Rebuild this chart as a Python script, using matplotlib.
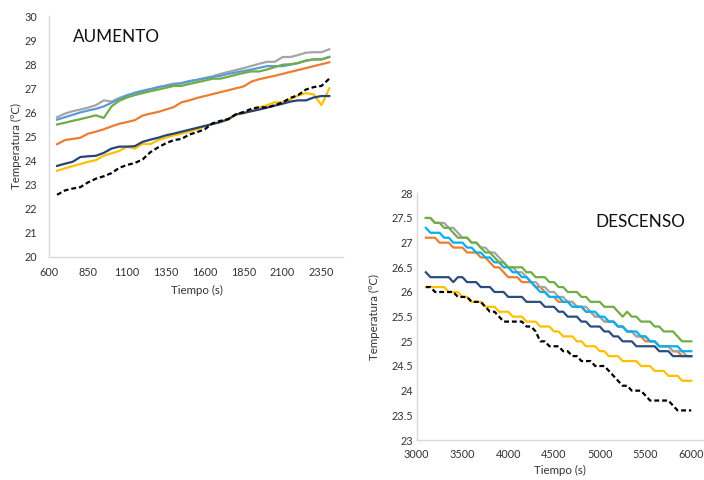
import matplotlib
matplotlib.use("Agg")
import matplotlib.pyplot as plt
from matplotlib.ticker import FormatStrFormatter

plt.rcParams['font.family'] = ['Lato', 'DejaVu Sans']

# ---- AUMENTO (heating) ----
t_up = list(range(650, 2401, 50))

up_gray = [25.8, 25.95, 26.05, 26.12, 26.2, 26.3, 26.5, 26.45, 26.6, 26.72, 26.8, 26.87,
           26.95, 27.05, 27.12, 27.2, 27.2, 27.28, 27.35, 27.42, 27.5, 27.6, 27.68, 27.76,
           27.84, 27.93, 28.02, 28.1, 28.1, 28.3, 28.3, 28.38, 28.48, 28.5, 28.5, 28.62]
up_blue = [25.7, 25.8, 25.9, 26.0, 26.08, 26.15, 26.25, 26.4, 26.55, 26.7, 26.82, 26.9,
           26.97, 27.05, 27.1, 27.15, 27.22, 27.3, 27.35, 27.42, 27.47, 27.52, 27.6, 27.66,
           27.72, 27.78, 27.85, 27.92, 27.92, 27.92, 27.98, 28.05, 28.15, 28.2, 28.2, 28.3]
up_green = [25.5, 25.57, 25.65, 25.72, 25.8, 25.88, 25.77, 26.25, 26.48, 26.62, 26.72, 26.8,
            26.88, 26.95, 27.02, 27.1, 27.1, 27.18, 27.25, 27.32, 27.4, 27.4, 27.48, 27.56,
            27.64, 27.7, 27.7, 27.78, 27.88, 27.98, 28.0, 28.05, 28.15, 28.2, 28.2, 28.3]
up_orange = [24.68, 24.85, 24.9, 24.95, 25.12, 25.2, 25.3, 25.42, 25.53, 25.6, 25.68, 25.87,
             25.95, 26.02, 26.12, 26.22, 26.42, 26.5, 26.6, 26.68, 26.76, 26.84, 26.92, 27.0,
             27.08, 27.28, 27.38, 27.45, 27.52, 27.6, 27.68, 27.76, 27.84, 27.92, 28.0, 28.08]
up_navy = [23.78, 23.87, 23.95, 24.15, 24.18, 24.2, 24.32, 24.5, 24.58, 24.58, 24.6, 24.78,
           24.87, 24.95, 25.05, 25.12, 25.2, 25.28, 25.36, 25.44, 25.52, 25.6, 25.72, 25.92,
           25.98, 26.05, 26.12, 26.2, 26.28, 26.36, 26.45, 26.5, 26.5, 26.62, 26.68, 26.68]
up_yellow = [23.58, 23.68, 23.77, 23.86, 23.95, 24.02, 24.2, 24.3, 24.4, 24.58, 24.5, 24.7,
             24.68, 24.85, 24.95, 25.05, 25.12, 25.2, 25.3, 25.42, 25.52, 25.6, 25.7, 25.9,
             25.96, 26.08, 26.2, 26.3, 26.42, 26.42, 26.55, 26.7, 26.8, 26.75, 26.3, 27.0]
up_ambient = [22.58, 22.76, 22.84, 22.9, 23.1, 23.25, 23.35, 23.48, 23.7, 23.82, 23.9, 24.05,
              24.35, 24.55, 24.72, 24.85, 24.9, 25.08, 25.18, 25.3, 25.55, 25.65, 25.72, 25.92,
              26.02, 26.15, 26.22, 26.2, 26.3, 26.42, 26.6, 26.72, 26.95, 27.05, 27.1, 27.4]

up_ticks = [600, 850, 1100, 1350, 1600, 1850, 2100, 2350]

# ---- DESCENSO (cooling) ----
t_down = list(range(3100, 6001, 50))

dn_green = [27.5, 27.5, 27.4, 27.4, 27.3, 27.3, 27.2, 27.1, 27.1, 27.1, 27.0, 27.0, 26.9, 26.8,
            26.8, 26.7, 26.6, 26.6, 26.5, 26.5, 26.5, 26.5, 26.4, 26.4, 26.3, 26.3, 26.3, 26.2,
            26.2, 26.1, 26.1, 26.0, 26.0, 26.0, 25.9, 25.9, 25.8, 25.8, 25.8, 25.7, 25.7, 25.7,
            25.6, 25.5, 25.6, 25.5, 25.5, 25.4, 25.4, 25.4, 25.3, 25.3, 25.2, 25.2, 25.2, 25.1,
            25.0, 25.0, 25.0]
dn_gray = [27.5, 27.5, 27.4, 27.4, 27.4, 27.3, 27.3, 27.2, 27.1, 27.1, 27.0, 27.0, 26.9, 26.9,
           26.8, 26.8, 26.7, 26.6, 26.5, 26.5, 26.4, 26.4, 26.3, 26.2, 26.2, 26.1, 26.1, 26.0,
           26.0, 25.9, 25.9, 25.8, 25.8, 25.7, 25.7, 25.7, 25.6, 25.5, 25.5, 25.4, 25.4, 25.4,
           25.3, 25.3, 25.2, 25.2, 25.1, 25.1, 25.1, 25.0, 25.0, 24.9, 24.9, 24.9, 24.8, 24.8,
           24.8, 24.7, 24.7]
dn_cyan = [27.3, 27.2, 27.2, 27.2, 27.1, 27.1, 27.0, 27.0, 27.0, 26.9, 26.9, 26.8, 26.8, 26.7,
           26.7, 26.6, 26.6, 26.5, 26.5, 26.4, 26.4, 26.3, 26.3, 26.2, 26.1, 26.0, 26.0, 25.9,
           25.9, 25.9, 25.8, 25.8, 25.7, 25.7, 25.7, 25.6, 25.6, 25.6, 25.5, 25.5, 25.4, 25.4,
           25.3, 25.3, 25.2, 25.2, 25.2, 25.1, 25.1, 25.0, 25.0, 24.9, 24.9, 24.9, 24.9, 24.9,
           24.8, 24.8, 24.8]
dn_orange = [27.1, 27.1, 27.1, 27.0, 27.0, 27.0, 26.9, 26.9, 26.9, 26.8, 26.8, 26.8, 26.7, 26.7,
             26.6, 26.5, 26.5, 26.4, 26.3, 26.3, 26.3, 26.2, 26.2, 26.2, 26.1, 26.1, 26.0, 25.9,
             25.9, 25.8, 25.8, 25.8, 25.8, 25.7, 25.7, 25.6, 25.6, 25.5, 25.5, 25.4, 25.4, 25.4,
             25.3, 25.3, 25.2, 25.2, 25.1, 25.1, 25.0, 25.0, 25.0, 24.9, 24.9, 24.9, 24.8, 24.8,
             24.7, 24.7, 24.7]
dn_navy = [26.4, 26.3, 26.3, 26.3, 26.3, 26.3, 26.2, 26.3, 26.3, 26.2, 26.2, 26.2, 26.1, 26.1,
           26.1, 26.0, 26.0, 26.0, 25.9, 25.9, 25.9, 25.9, 25.8, 25.8, 25.8, 25.8, 25.7, 25.7,
           25.7, 25.6, 25.6, 25.5, 25.5, 25.5, 25.4, 25.4, 25.3, 25.3, 25.3, 25.2, 25.2, 25.1,
           25.1, 25.0, 25.0, 25.0, 24.9, 24.9, 24.9, 24.9, 24.9, 24.8, 24.8, 24.8, 24.7, 24.7,
           24.7, 24.7, 24.7]
dn_yellow = [26.1, 26.1, 26.1, 26.1, 26.1, 26.0, 26.0, 26.0, 25.9, 25.9, 25.8, 25.8, 25.8, 25.7,
             25.7, 25.7, 25.6, 25.6, 25.6, 25.5, 25.5, 25.5, 25.4, 25.4, 25.4, 25.3, 25.3, 25.3,
             25.2, 25.2, 25.1, 25.1, 25.1, 25.0, 25.0, 24.9, 24.9, 24.9, 24.8, 24.8, 24.7, 24.7,
             24.7, 24.6, 24.6, 24.6, 24.6, 24.5, 24.5, 24.5, 24.4, 24.4, 24.4, 24.3, 24.3, 24.3,
             24.2, 24.2, 24.2]
dn_ambient = [26.1, 26.1, 26.0, 26.0, 26.0, 26.0, 26.0, 25.9, 25.9, 25.9, 25.8, 25.8, 25.8, 25.7,
              25.6, 25.6, 25.5, 25.4, 25.4, 25.4, 25.4, 25.4, 25.3, 25.3, 25.2, 25.0, 25.0, 24.9,
              24.9, 24.9, 24.8, 24.8, 24.7, 24.7, 24.6, 24.6, 24.6, 24.5, 24.5, 24.5, 24.4, 24.3,
              24.2, 24.1, 24.1, 24.0, 24.0, 24.0, 23.9, 23.8, 23.8, 23.8, 23.8, 23.8, 23.7, 23.6,
              23.6, 23.6, 23.6]

dn_yticks = [23, 23.5, 24, 24.5, 25, 25.5, 26, 26.5, 27, 27.5, 28]
dn_xticks = [3000, 3500, 4000, 4500, 5000, 5500, 6000]

LW = 1.6
DASH = (0, (2.2, 1.3))
axis_col = '#D9D9D9'
text_col = '#333333'


def style(ax, ypad, xpad):
    for s in ['top', 'right']:
        ax.spines[s].set_visible(False)
    for s in ['left', 'bottom']:
        ax.spines[s].set_color(axis_col)
        ax.spines[s].set_linewidth(1)
    ax.tick_params(axis='both', length=0, labelsize=7.8, colors=text_col)
    ax.tick_params(axis='y', pad=ypad)
    ax.tick_params(axis='x', pad=xpad)


fig = plt.figure(figsize=(7.04, 4.8), dpi=100)

# left chart
ax1 = fig.add_axes([0.0700, 0.4646, 0.4176, 0.502])
ax1.plot(t_up, up_gray, color='#A5A5A5', lw=LW)
ax1.plot(t_up, up_blue, color='#5B9BD5', lw=LW)
ax1.plot(t_up, up_green, color='#70AD47', lw=LW)
ax1.plot(t_up, up_orange, color='#ED7D31', lw=LW)
ax1.plot(t_up, up_yellow, color='#FFC000', lw=LW)
ax1.plot(t_up, up_navy, color='#264478', lw=LW)
ax1.plot(t_up, up_ambient, color='black', lw=LW, linestyle=DASH)
ax1.set_xlim(600, 2490)
ax1.set_ylim(20, 30)
ax1.set_xticks(up_ticks)
ax1.set_yticks(range(20, 31))
style(ax1, 8.5, 7.5)
ax1.set_xlabel('Tiempo (s)', fontsize=8.3, color=text_col)
ax1.set_ylabel('Temperatura (ºC)', fontsize=8.3, color=text_col)
ax1.xaxis.set_label_coords(0.503, -0.118)
ax1.yaxis.set_label_coords(-0.094, 0.46)

# right chart
ax2 = fig.add_axes([0.5919, 0.0833, 0.4081, 0.514])
ax2.plot(t_down, dn_orange, color='#ED7D31', lw=LW)
ax2.plot(t_down, dn_gray, color='#A5A5A5', lw=LW)
ax2.plot(t_down, dn_cyan, color='#00B0F0', lw=LW)
ax2.plot(t_down, dn_navy, color='#2B4C7E', lw=LW)
ax2.plot(t_down, dn_yellow, color='#FFC000', lw=LW)
ax2.plot(t_down, dn_green, color='#70AD47', lw=LW)
ax2.plot(t_down, dn_ambient, color='black', lw=LW, linestyle=DASH)
ax2.set_xlim(3000, 6139)
ax2.set_ylim(23, 28)
ax2.set_xticks(dn_xticks)
ax2.set_yticks(dn_yticks)
ax2.yaxis.set_major_formatter(FormatStrFormatter('%g'))
style(ax2, 2.5, 6.5)
ax2.set_xlabel('Tiempo (s)', fontsize=8.3, color=text_col)
ax2.set_ylabel('Temperatura (ºC)', fontsize=8.3, color=text_col)
ax2.xaxis.set_label_coords(0.499, -0.101)
ax2.yaxis.set_label_coords(-0.128, 0.5)

fig.text(73 / 704, 1 - 37 / 480, 'AUMENTO', fontsize=12.3, ha='left', va='center', color='#111111')
fig.text(595 / 704, 1 - 221.7 / 480, 'DESCENSO', fontsize=12.3, ha='left', va='center', color='#111111')

fig.savefig('out.png', dpi=100)
